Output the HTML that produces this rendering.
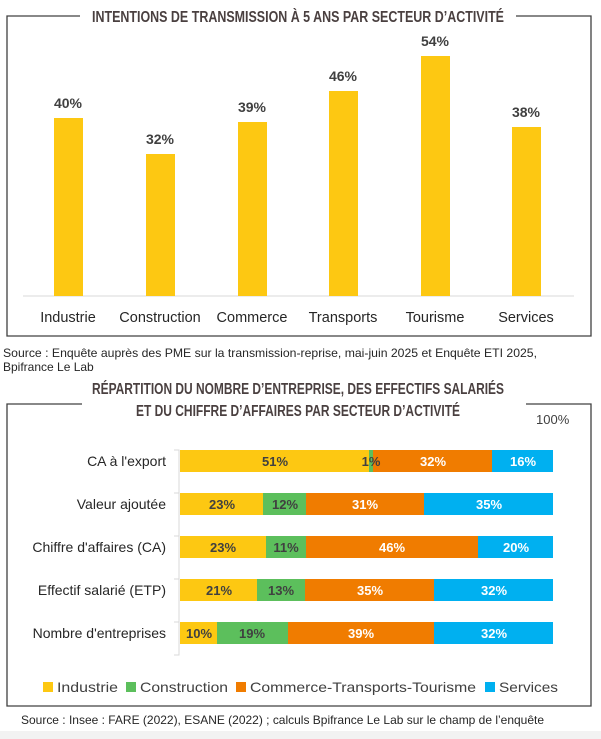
<!DOCTYPE html>
<html><head><meta charset="utf-8"><style>
html,body{margin:0;padding:0;background:#fff;}
svg{display:block;font-family:"Liberation Sans",sans-serif;}
</style></head><body>
<svg width="601" height="739" viewBox="0 0 601 739" xmlns="http://www.w3.org/2000/svg">
<rect x="0" y="731" width="601" height="8" fill="#f2f2f2"/>
<!-- frame 1 -->
<path d="M80 16 H7 V336 H591 V16 H516" fill="none" stroke="#404040" stroke-width="1.3"/>
<text x="298" y="22" text-anchor="middle" font-size="16" font-weight="bold" fill="#4a4040" textLength="412" lengthAdjust="spacingAndGlyphs">INTENTIONS DE TRANSMISSION À 5 ANS PAR SECTEUR D’ACTIVITÉ</text>
<line x1="23" y1="296" x2="574" y2="296" stroke="#d9d9d9" stroke-width="1"/>
<g fill="#FDC812">
<rect x="54" y="118" width="29" height="178"/>
<rect x="146" y="154" width="29" height="142"/>
<rect x="238" y="122" width="29" height="174"/>
<rect x="329" y="91" width="29" height="205"/>
<rect x="421" y="56" width="29" height="240"/>
<rect x="512" y="127" width="29" height="169"/>
</g>
<g font-size="14" font-weight="bold" fill="#404040" text-anchor="middle">
<text x="68" y="108">40%</text><text x="160" y="144">32%</text><text x="252" y="112">39%</text>
<text x="343" y="81">46%</text><text x="435" y="46">54%</text><text x="526" y="117">38%</text>
</g>
<g font-size="14.5" fill="#262626" text-anchor="middle">
<text x="68" y="322">Industrie</text><text x="160" y="322">Construction</text><text x="252" y="322">Commerce</text>
<text x="343" y="322">Transports</text><text x="435" y="322">Tourisme</text><text x="526" y="322">Services</text>
</g>
<text x="3" y="357" font-size="12" fill="#262626" textLength="534" lengthAdjust="spacingAndGlyphs">Source : Enquête auprès des PME sur la transmission-reprise, mai-juin 2025 et Enquête ETI 2025,</text>
<text x="3" y="371" font-size="12" fill="#262626">Bpifrance Le Lab</text>
<!-- frame 2 -->
<path d="M82 404 H7 V706 H591 V404 H526" fill="none" stroke="#404040" stroke-width="1.3"/>
<text x="298" y="394" text-anchor="middle" font-size="16" font-weight="bold" fill="#4a4040" textLength="412" lengthAdjust="spacingAndGlyphs">RÉPARTITION DU NOMBRE D’ENTREPRISE, DES EFFECTIFS SALARIÉS</text>
<text x="298" y="416" text-anchor="middle" font-size="16" font-weight="bold" fill="#4a4040" textLength="324" lengthAdjust="spacingAndGlyphs">ET DU CHIFFRE D’AFFAIRES PAR SECTEUR D’ACTIVITÉ</text>
<text x="536" y="424" font-size="13" fill="#404040">100%</text>
<path d="M174 450 H179 V655 H174 M174 493 H179 M174 536 H179 M174 579 H179 M174 622 H179" fill="none" stroke="#d9d9d9"/>
<g font-size="14" fill="#262626" text-anchor="end">
<text x="166" y="466">CA à l'export</text><text x="166" y="509">Valeur ajoutée</text>
<text x="166" y="552">Chiffre d'affaires (CA)</text><text x="166" y="595">Effectif salarié (ETP)</text>
<text x="166" y="638">Nombre d'entreprises</text>
</g>
<g>
<rect x="180" y="450" width="189" height="22" fill="#FDC812"/><rect x="369" y="450" width="4" height="22" fill="#5CBF5C"/><rect x="373" y="450" width="119" height="22" fill="#F07C00"/><rect x="492" y="450" width="61" height="22" fill="#00B0F0"/>
<rect x="180" y="493" width="83" height="22" fill="#FDC812"/><rect x="263" y="493" width="43" height="22" fill="#5CBF5C"/><rect x="306" y="493" width="118" height="22" fill="#F07C00"/><rect x="424" y="493" width="129" height="22" fill="#00B0F0"/>
<rect x="180" y="536" width="86" height="22" fill="#FDC812"/><rect x="266" y="536" width="40" height="22" fill="#5CBF5C"/><rect x="306" y="536" width="172" height="22" fill="#F07C00"/><rect x="478" y="536" width="75" height="22" fill="#00B0F0"/>
<rect x="180" y="579" width="77" height="22" fill="#FDC812"/><rect x="257" y="579" width="48" height="22" fill="#5CBF5C"/><rect x="305" y="579" width="129" height="22" fill="#F07C00"/><rect x="434" y="579" width="119" height="22" fill="#00B0F0"/>
<rect x="180" y="622" width="37" height="22" fill="#FDC812"/><rect x="217" y="622" width="71" height="22" fill="#5CBF5C"/><rect x="288" y="622" width="146" height="22" fill="#F07C00"/><rect x="434" y="622" width="119" height="22" fill="#00B0F0"/>
</g>
<g font-size="13" font-weight="bold" text-anchor="middle">
<g fill="#404040">
<text x="275" y="466">51%</text><text x="371" y="466">1%</text>
<text x="222" y="509">23%</text><text x="285" y="509">12%</text>
<text x="223" y="552">23%</text><text x="286" y="552">11%</text>
<text x="219" y="595">21%</text><text x="281" y="595">13%</text>
<text x="199" y="638">10%</text><text x="252" y="638">19%</text>
</g>
<g fill="#fff">
<text x="433" y="466">32%</text><text x="523" y="466">16%</text>
<text x="365" y="509">31%</text><text x="489" y="509">35%</text>
<text x="392" y="552">46%</text><text x="516" y="552">20%</text>
<text x="370" y="595">35%</text><text x="494" y="595">32%</text>
<text x="361" y="638">39%</text><text x="494" y="638">32%</text>
</g>
</g>
<g font-size="14" fill="#404040">
<rect x="43" y="682" width="10" height="10" fill="#FDC812"/><text x="57" y="692" textLength="61" lengthAdjust="spacingAndGlyphs">Industrie</text>
<rect x="126" y="682" width="10" height="10" fill="#5CBF5C"/><text x="140" y="692" textLength="88" lengthAdjust="spacingAndGlyphs">Construction</text>
<rect x="236" y="682" width="10" height="10" fill="#F07C00"/><text x="250" y="692" textLength="226" lengthAdjust="spacingAndGlyphs">Commerce-Transports-Tourisme</text>
<rect x="485" y="682" width="10" height="10" fill="#00B0F0"/><text x="499" y="692" textLength="59" lengthAdjust="spacingAndGlyphs">Services</text>
</g>
<text x="21" y="724" font-size="12" fill="#262626" textLength="523" lengthAdjust="spacingAndGlyphs">Source : Insee : FARE (2022), ESANE (2022) ; calculs Bpifrance Le Lab sur le champ de l’enquête</text>
</svg>
</body></html>
